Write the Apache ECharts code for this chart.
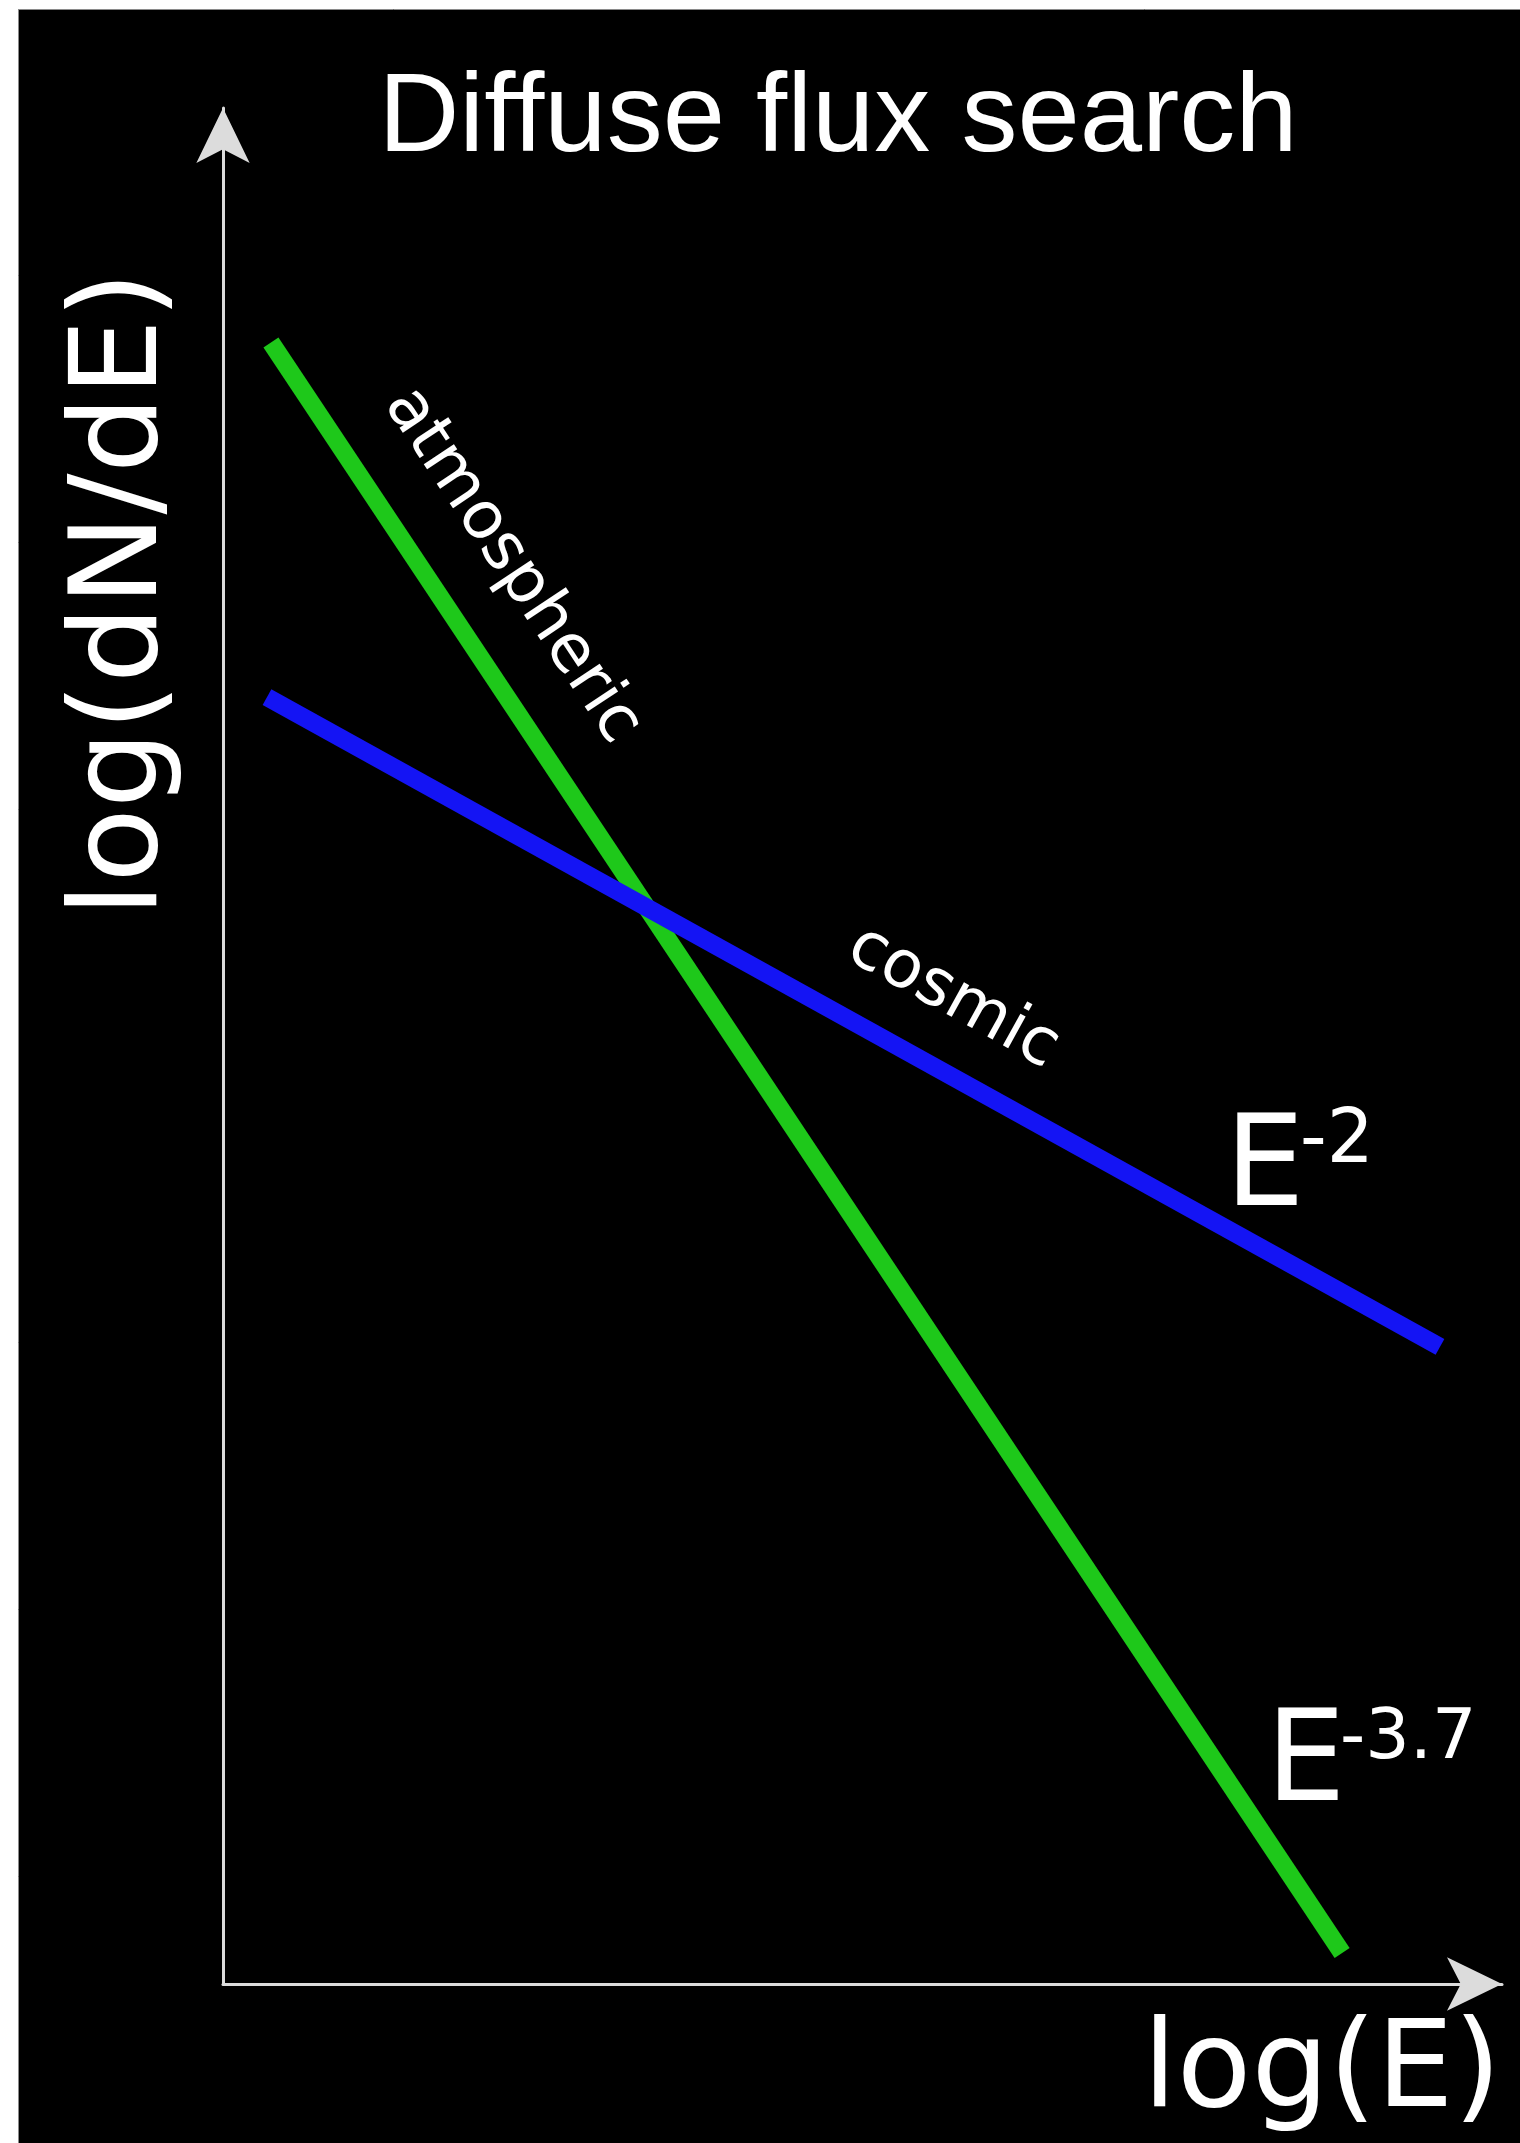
<!DOCTYPE html>
<html>
<head>
<meta charset="utf-8">
<title>Diffuse flux search</title>
<script src="https://cdn.jsdelivr.net/npm/echarts@6/dist/echarts.min.js"></script>
<style>
  html, body { margin: 0; padding: 0; background: #000; }
  #chart { width: 1520px; height: 2143px; }
</style>
</head>
<body>
<div id="chart"></div>
<script>
// Schematic spectra in log-log space (arbitrary units, 0..10 on each axis)
const atmosphericLogE = [0.375, 8.75];
const atmosphericLogFlux = [8.75, 0.165];
const cosmicLogE = [0.344, 9.515];
const cosmicLogFlux = [6.86, 3.396];

const titleText = 'Diffuse flux search';
const xAxisName = 'log(E)';
const yAxisName = 'log(dN/dE)';
const atmosphericName = 'atmospheric';
const cosmicName = 'cosmic';
const atmosphericIndex = '-3.7';
const cosmicIndex = '-2';

const pairs = (xs, ys) => xs.map((x, i) => [x, ys[i]]);

const labelFont = '"DejaVu Sans", sans-serif';
const axisColor = '#dcdcdc';

const chart = echarts.init(document.getElementById('chart'), null, { renderer: 'canvas' });

const axisCommon = {
  type: 'value',
  min: 0,
  max: 10,
  splitLine: { show: false },
  axisTick: { show: false },
  axisLabel: { show: false },
  axisLine: {
    show: true,
    symbol: ['none', 'arrow'],
    symbolSize: [40, 55],
    lineStyle: { color: axisColor, width: 3 }
  }
};

chart.setOption({
  backgroundColor: '#000',
  animation: false,
  grid: { left: 223, right: 18, top: 108, bottom: 159 },
  xAxis: Object.assign({}, axisCommon),
  yAxis: Object.assign({}, axisCommon),
  series: [
    {
      name: atmosphericName,
      type: 'line',
      data: pairs(atmosphericLogE, atmosphericLogFlux),
      showSymbol: false,
      lineStyle: { color: '#1ec81a', width: 18 },
      z: 2
    },
    {
      name: cosmicName,
      type: 'line',
      data: pairs(cosmicLogE, cosmicLogFlux),
      showSymbol: false,
      lineStyle: { color: '#1414f4', width: 18 },
      z: 3
    }
  ],
  graphic: [
    // frame edges
    { type: 'rect', shape: { x: 0, y: 0, width: 1520, height: 9 }, style: { fill: '#fff' }, z: 100 },
    { type: 'rect', shape: { x: 0, y: 0, width: 18, height: 2143 }, style: { fill: '#fff' }, z: 100 },
    { type: 'line', shape: { x1: 18, y1: 9.5, x2: 1520, y2: 9.5 }, style: { stroke: '#8a8a8a', lineWidth: 1 }, z: 101 },
    { type: 'line', shape: { x1: 18.5, y1: 9, x2: 18.5, y2: 2143 }, style: { stroke: '#8a8a8a', lineWidth: 1 }, z: 101 },
    // title
    {
      type: 'text', x: 838, y: 120,
      style: { text: titleText, fill: '#fff', font: '112px "Liberation Sans", Arial, sans-serif', align: 'center', verticalAlign: 'middle' },
      z: 50
    },
    // axis names
    {
      type: 'text', x: 124, y: 594, rotation: Math.PI / 2,
      style: { text: yAxisName, fill: '#fff', font: '122px ' + labelFont, align: 'center', verticalAlign: 'middle' },
      z: 50
    },
    {
      type: 'text', x: 1322, y: 2074,
      style: { text: xAxisName, fill: '#fff', font: '122px ' + labelFont, align: 'center', verticalAlign: 'middle' },
      z: 50
    },
    // line captions
    {
      type: 'text', x: 512, y: 566, rotation: -56.4 * Math.PI / 180,
      style: { text: atmosphericName, fill: '#fff', font: '66px ' + labelFont, align: 'center', verticalAlign: 'middle' },
      z: 50
    },
    {
      type: 'text', x: 953, y: 998, rotation: -29 * Math.PI / 180,
      style: { text: cosmicName, fill: '#fff', font: '66px ' + labelFont, align: 'center', verticalAlign: 'middle' },
      z: 50
    },
    // spectral indices
    {
      type: 'text', x: 1225, y: 1235,
      style: { text: 'E', fill: '#fff', font: '126px ' + labelFont, align: 'left', verticalAlign: 'bottom' },
      z: 50
    },
    {
      type: 'text', x: 1300, y: 1180,
      style: { text: cosmicIndex, fill: '#fff', font: '74px ' + labelFont, align: 'left', verticalAlign: 'bottom' },
      z: 50
    },
    {
      type: 'text', x: 1266, y: 1830,
      style: { text: 'E', fill: '#fff', font: '126px ' + labelFont, align: 'left', verticalAlign: 'bottom' },
      z: 50
    },
    {
      type: 'text', x: 1340, y: 1775,
      style: { text: atmosphericIndex, fill: '#fff', font: '70px ' + labelFont, align: 'left', verticalAlign: 'bottom' },
      z: 50
    }
  ]
});
</script>
</body>
</html>
